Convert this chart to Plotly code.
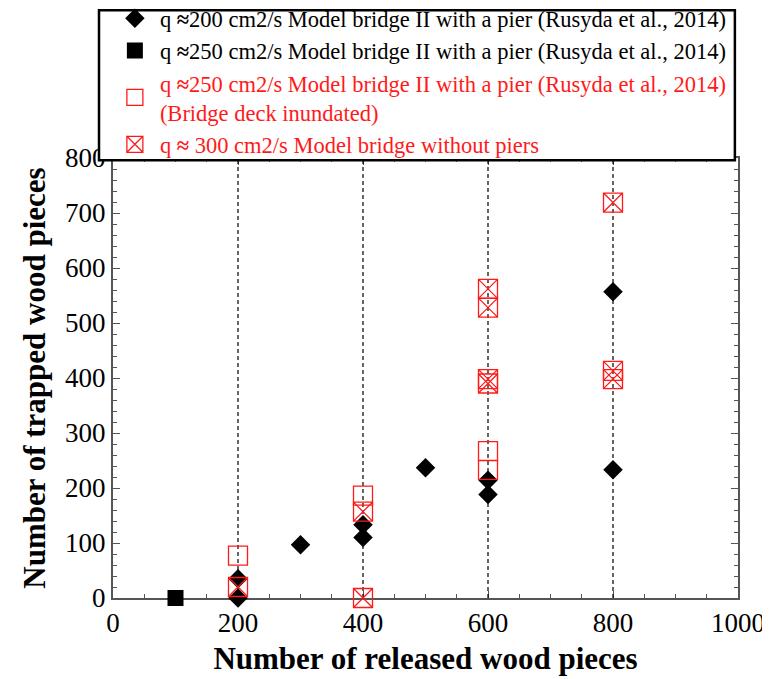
import plotly.graph_objects as go

# q ~ 200 cm2/s, model bridge II with a pier (Rusyda et al., 2014)
q200_released = [200, 200, 300, 400, 400, 500, 600, 600, 800, 800]
q200_trapped = [0, 35, 97, 110, 133, 237, 188, 214, 233, 557]

# q ~ 250 cm2/s, model bridge II with a pier
q250_released = [100]
q250_trapped = [0]

# q ~ 250 cm2/s, bridge deck inundated
q250i_released = [200, 400, 600, 600]
q250i_trapped = [77, 186, 267, 233]

# q ~ 300 cm2/s, model bridge without piers
q300_released = [200, 400, 400, 600, 600, 600, 600, 800, 800, 800]
q300_trapped = [20, 0, 157, 562, 528, 398, 390, 719, 413, 398]

guide_x = [200, 400, 600, 800]
guide_y = [0, 800]

serif = "Liberation Serif"
red = "#ff1a1a"

fig = go.Figure()

# dashed guide lines
for gx in guide_x:
    fig.add_trace(go.Scatter(x=[gx, gx], y=guide_y, mode="lines",
                             line=dict(color="black", width=1.2, dash="4px,3px"),
                             showlegend=False, hoverinfo="skip"))

fig.add_trace(go.Scatter(
    x=q200_released, y=q200_trapped, mode="markers", cliponaxis=False,
    marker=dict(symbol="diamond", size=15, color="black"),
    name="q <b>≈</b>200 cm2/s Model bridge II with a pier (Rusyda et al., 2014)"))
fig.add_trace(go.Scatter(
    x=q250_released, y=q250_trapped, mode="markers", cliponaxis=False,
    marker=dict(symbol="square", size=16, color="black"),
    name="q <b>≈</b>250 cm2/s Model bridge II with a pier (Rusyda et al., 2014)"))
fig.add_trace(go.Scatter(
    x=q250i_released, y=q250i_trapped, mode="markers", cliponaxis=False,
    marker=dict(symbol="square-open", size=19, color=red, line=dict(width=1.3)),
    name="<span style='color:" + red + "'>q <b>≈</b>250 cm2/s Model bridge II with a pier (Rusyda et al., 2014)"
         "<br>(Bridge deck inundated)</span>"))
fig.add_trace(go.Scatter(
    x=q300_released, y=q300_trapped, mode="markers", cliponaxis=False,
    marker=dict(symbol="square-x-open", size=19, color=red, line=dict(width=1.3)),
    name="<span style='color:" + red + "'>q <b>≈</b> 300 cm2/s Model bridge without piers</span>"))

# legend frame
fig.add_shape(type="rect", xref="paper", yref="paper",
              x0=-0.0224, x1=0.995, y0=0.995, y1=1.336,
              line=dict(color="black", width=2.5), fillcolor="white", layer="above")

axis_common = dict(
    showline=True, linecolor="#555555", linewidth=2, mirror="ticks",
    ticks="inside", ticklen=7, tickcolor="#555555", tickwidth=1,
    showgrid=False, zeroline=False, layer="below traces",
    tickfont=dict(family=serif, size=27, color="black"),
)

fig.update_xaxes(range=[0, 1000], dtick=200,
                 minor=dict(dtick=50, ticks="inside", ticklen=4, tickcolor="#555555"),
                 title=dict(text="<b>Number of released wood pieces</b>",
                            font=dict(family=serif, size=31, color="black"), standoff=10),
                 **axis_common)
fig.update_yaxes(range=[0, 800], dtick=100,
                 minor=dict(dtick=20, ticks="inside", ticklen=4, tickcolor="#555555"),
                 title=dict(text="<b>Number of trapped wood pieces</b>",
                            font=dict(family=serif, size=31, color="black"), standoff=10),
                 **axis_common)

# page body adds an 8px offset, so margins are shifted to compensate
fig.update_layout(
    width=770, height=679,
    margin=dict(l=105, r=40, t=150, b=89, autoexpand=False),
    plot_bgcolor="white", paper_bgcolor="white",
    legend=dict(x=-0.005, y=1.3655, xanchor="left", yanchor="top",
                bgcolor="rgba(0,0,0,0)", borderwidth=0, itemwidth=40,
                font=dict(family=serif, size=22.5, color="black"),
                tracegroupgap=0),
)

fig.write_html("out.html")
